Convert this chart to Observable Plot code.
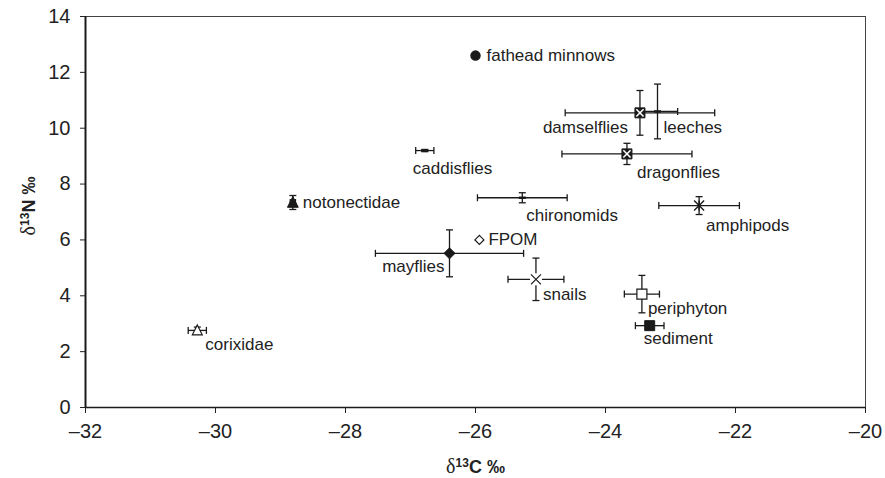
<!DOCTYPE html>
<html>
<head>
<meta charset="utf-8">
<script src="https://cdn.jsdelivr.net/npm/d3@7"></script>
<script src="https://cdn.jsdelivr.net/npm/@observablehq/plot@0.6"></script>
<style>
  html, body { margin: 0; padding: 0; background: #fff; }
  #chart svg { display: block; }
</style>
</head>
<body>
<div id="chart"></div>
<script>
// ---- data ----
const taxa = ["fathead minnows","damselflies","leeches","dragonflies","caddisflies","amphipods","chironomids","notonectidae","FPOM","mayflies","snails","periphyton","sediment","corixidae"];
const d13C = [-26.0, -23.47, -23.2, -23.67, -26.78, -22.56, -25.28, -28.81, -25.94, -26.4, -25.07, -23.44, -23.32, -30.28];
const d13N = [12.6, 10.55, 10.6, 9.08, 9.2, 7.23, 7.51, 7.34, 6.0, 5.52, 4.59, 4.06, 2.93, 2.76];
const sdC  = [0, 1.15, 0.31, 1.0, 0.14, 0.62, 0.69, 0.04, 0, 1.14, 0.43, 0.27, 0.22, 0.14];
const sdN  = [0, 0.8, 0.98, 0.38, 0.04, 0.32, 0.18, 0.25, 0, 0.84, 0.76, 0.67, 0.14, 0.12];
const xTicks = [-32, -30, -28, -26, -24, -22, -20];
const yTicks = [0, 2, 4, 6, 8, 10, 12, 14];
const axisTitles = {x: ["\u03b4", "13", "C \u2030"], y: ["\u03b4", "13", "N \u2030"]};

const rows = taxa.map((t, i) => ({taxon: t, x: d13C[i], y: d13N[i], ex: sdC[i], ey: sdN[i]}));

// ---- styling ----
const sym = fn => ({draw(c, s) { const h = Math.sqrt(s / Math.PI); fn(c, h); }});
const vbar = sym((c, h) => { c.moveTo(0, -h); c.lineTo(0, h); });
const hbar = sym((c, h) => { c.moveTo(-h, 0); c.lineTo(h, 0); });
const square = sym((c, h) => { c.rect(-h, -h, 2 * h, 2 * h); });
const diamond = sym((c, h) => { c.moveTo(0, -h); c.lineTo(h, 0); c.lineTo(0, h); c.lineTo(-h, 0); c.closePath(); });
const triangle = sym((c, h) => { c.moveTo(0, -h); c.lineTo(h * 0.9, h * 0.8); c.lineTo(-h * 0.9, h * 0.8); c.closePath(); });
const cross = sym((c, h) => { c.moveTo(-h, -h); c.lineTo(h, h); c.moveTo(-h, h); c.lineTo(h, -h); });
const aster = sym((c, h) => { c.moveTo(-h, -h); c.lineTo(h, h); c.moveTo(-h, h); c.lineTo(h, -h); c.moveTo(0, -h); c.lineTo(0, h); });

const marker = {
  "fathead minnows": "circle",
  "damselflies": "boxx",
  "leeches": "dash",
  "dragonflies": "boxx",
  "caddisflies": "dash",
  "amphipods": "aster",
  "chironomids": "dash",
  "notonectidae": "ftri",
  "FPOM": "odiam",
  "mayflies": "fdiam",
  "snails": "cross",
  "periphyton": "osq",
  "sediment": "fsq",
  "corixidae": "otri"
};
const labelPos = {
  "fathead minnows": {dx: 11, dy: 0, a: "start"},
  "damselflies": {dx: -12, dy: 15, a: "end"},
  "leeches": {dx: 6, dy: 16, a: "start"},
  "dragonflies": {dx: 10, dy: 19, a: "start"},
  "caddisflies": {dx: -12, dy: 18, a: "start"},
  "amphipods": {dx: 7, dy: 20, a: "start"},
  "chironomids": {dx: 4, dy: 18, a: "start"},
  "notonectidae": {dx: 10, dy: 0, a: "start"},
  "FPOM": {dx: 9, dy: 0, a: "start"},
  "mayflies": {dx: -5, dy: 13, a: "end"},
  "snails": {dx: 7, dy: 15, a: "start"},
  "periphyton": {dx: 6, dy: 14, a: "start"},
  "sediment": {dx: -6, dy: 13, a: "start"},
  "corixidae": {dx: 8, dy: 14, a: "start"}
};
const of = k => rows.filter(d => marker[d.taxon] === k);
const ink = "#1a1a1a";
const hb = rows.filter(d => d.ex > 0);
const vb = rows.filter(d => d.ey > 0);

const labelMarks = rows.map(d => {
  const p = labelPos[d.taxon];
  return Plot.text([d], {x: "x", y: "y", text: "taxon", textAnchor: p.a, dx: p.dx, dy: p.dy, fontSize: 17, fill: "#222"});
});

const marks = [
  Plot.frame({stroke: "#444", strokeWidth: 1}),
  Plot.ruleX([-32], {stroke: ink, strokeWidth: 2}),
  Plot.ruleY([0], {stroke: ink, strokeWidth: 1.5}),
  Plot.axisX({ticks: xTicks, tickSize: 6, tickPadding: 10, tickFormat: d => d < 0 ? "\u2013" + Math.abs(d) : String(d), label: null, fontSize: 20, fill: "#222"}),
  Plot.axisY({ticks: yTicks, tickSize: 5, tickPadding: 10, label: null, fontSize: 20, fill: "#222"}),
  // error bars
  Plot.link(hb, {x1: d => d.x - d.ex, x2: d => d.x + d.ex, y1: "y", y2: "y", stroke: ink, strokeWidth: 1.3}),
  Plot.link(vb, {x1: "x", x2: "x", y1: d => d.y - d.ey, y2: d => d.y + d.ey, stroke: ink, strokeWidth: 1.3}),
  Plot.dot(hb, {x: d => d.x - d.ex, y: "y", symbol: vbar, r: 3.5, stroke: ink, strokeWidth: 1.3, fill: "none"}),
  Plot.dot(hb, {x: d => d.x + d.ex, y: "y", symbol: vbar, r: 3.5, stroke: ink, strokeWidth: 1.3, fill: "none"}),
  Plot.dot(vb, {x: "x", y: d => d.y - d.ey, symbol: hbar, r: 3.5, stroke: ink, strokeWidth: 1.3, fill: "none"}),
  Plot.dot(vb, {x: "x", y: d => d.y + d.ey, symbol: hbar, r: 3.5, stroke: ink, strokeWidth: 1.3, fill: "none"}),
  // markers
  Plot.dot(of("circle"), {x: "x", y: "y", r: 4.5, fill: ink, stroke: ink}),
  Plot.dot(of("boxx"), {x: "x", y: "y", symbol: square, r: 5, fill: ink, stroke: ink, strokeWidth: 1}),
  Plot.dot(of("boxx"), {x: "x", y: "y", symbol: cross, r: 3.6, fill: "none", stroke: "#fff", strokeWidth: 1.6}),
  Plot.dot(of("dash"), {x: "x", y: "y", symbol: hbar, r: 3.5, fill: "none", stroke: ink, strokeWidth: 2.5}),
  Plot.dot(of("aster"), {x: "x", y: "y", symbol: aster, r: 5, fill: "none", stroke: ink, strokeWidth: 1.4}),
  Plot.dot(of("ftri"), {x: "x", y: "y", symbol: triangle, r: 6, fill: ink, stroke: ink, strokeWidth: 1}),
  Plot.dot(of("otri"), {x: "x", y: "y", symbol: triangle, r: 5.5, fill: "#fff", stroke: ink, strokeWidth: 1.2}),
  Plot.dot(of("odiam"), {x: "x", y: "y", symbol: diamond, r: 4.5, fill: "#fff", stroke: ink, strokeWidth: 1.2}),
  Plot.dot(of("fdiam"), {x: "x", y: "y", symbol: diamond, r: 5.5, fill: ink, stroke: ink, strokeWidth: 1}),
  Plot.dot(of("cross"), {x: "x", y: "y", symbol: square, r: 6, fill: "#fff", stroke: "none"}),
  Plot.dot(of("cross"), {x: "x", y: "y", symbol: cross, r: 5, fill: "none", stroke: ink, strokeWidth: 1.2}),
  Plot.dot(of("osq"), {x: "x", y: "y", symbol: square, r: 5, fill: "#fff", stroke: ink, strokeWidth: 1.2}),
  Plot.dot(of("fsq"), {x: "x", y: "y", symbol: square, r: 5, fill: ink, stroke: ink, strokeWidth: 1}),
  ...labelMarks,
  // axis titles (rebuilt with tspans below)
  Plot.text([axisTitles.x.join("")], {frameAnchor: "bottom", textAnchor: "middle", lineAnchor: "middle", dy: 60, fontSize: 18, fill: "#222"}),
  Plot.text([axisTitles.y.join("")], {frameAnchor: "left", textAnchor: "middle", lineAnchor: "middle", dx: -56, dy: -6, rotate: -90, fontSize: 18, fill: "#222"})
];

const chart = Plot.plot({
  width: 885,
  height: 478,
  marginLeft: 85,
  marginRight: 20,
  marginTop: 16,
  marginBottom: 71,
  style: {fontFamily: "'Liberation Sans', Arial, sans-serif", fontSize: "19px", background: "#fff", color: "#222"},
  x: {domain: [-32, -20]},
  y: {domain: [0, 14]},
  marks
});

// rich axis titles: δ (serif), superscript 13, bold letter and ‰
d3.select(chart).selectAll("text").each(function () {
  const t = this.textContent;
  const parts = t === axisTitles.x.join("") ? axisTitles.x : t === axisTitles.y.join("") ? axisTitles.y : null;
  if (!parts) return;
  const sel = d3.select(this);
  sel.text(null);
  sel.append("tspan").text(parts[0]).attr("font-family", "'Liberation Serif', serif").attr("font-size", 20);
  sel.append("tspan").text(parts[1]).attr("font-size", 12).attr("font-weight", "bold").attr("dy", "-0.55em");
  sel.append("tspan").text(parts[2]).attr("font-weight", "bold").attr("dy", "0.37em");
});

document.getElementById("chart").appendChild(chart);
</script>
</body>
</html>
